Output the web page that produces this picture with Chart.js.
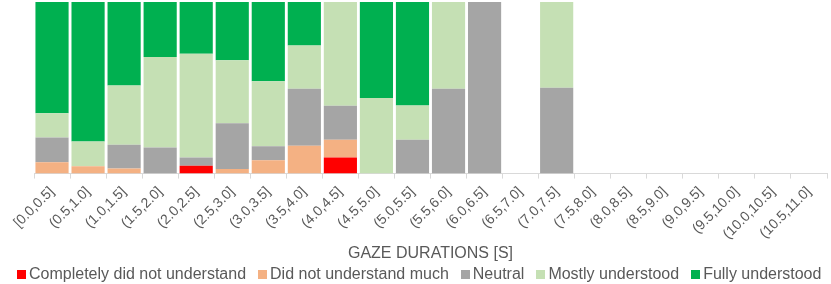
<!DOCTYPE html>
<html>
<head>
<meta charset="utf-8">
<script src="https://cdn.jsdelivr.net/npm/chart.js@4"></script>
<style>
html,body{margin:0;padding:0;background:#fff;}
#wrap{width:831px;height:284px;position:relative;overflow:hidden;}
#legend{position:absolute;left:17px;top:264px;height:20px;display:flex;align-items:center;
  font-family:'Liberation Sans',Arial,sans-serif;font-size:16px;color:#595959;white-space:nowrap;}
#legend .it{display:flex;align-items:center;margin-right:12px;}
#legend .bx{width:9px;height:9px;margin-right:3px;display:inline-block;}
</style>
</head>
<body>
<div id="wrap"><canvas id="c" width="831" height="284"></canvas><div id="legend"></div></div>
<script>
const categories = ["[0.0,0.5]","(0.5,1.0]","(1.0,1.5]","(1.5,2.0]","(2.0,2.5]","(2.5,3.0]","(3.0,3.5]","(3.5,4.0]","(4.0,4.5]","(4.5,5.0]","(5.0,5.5]","(5.5,6.0]","(6.0,6.5]","(6.5,7.0]","(7.0,7.5]","(7.5,8.0]","(8.0,8.5]","(8.5,9.0]","(9.0,9.5]","(9.5,10.0]","(10.0,10.5]","(10.5,11.0]"];
const completelyDidNot = [0,0,0,0,4.5,0,0,0,9.4,0,0,0,0,0,0,0,0,0,0,0,0,0];
const didNotMuch       = [6.6,4.3,2.9,0,0,2.7,7.8,16.2,10.3,0,0,0,0,0,0,0,0,0,0,0,0,0];
const neutral          = [14.4,0,13.9,15.2,4.9,26.7,8.2,33.3,19.9,0,19.7,49.5,100,0,50,0,0,0,0,0,0,0];
const mostly           = [14.2,14.4,34.5,52.8,60.4,36.7,37.8,25.2,60.4,44,20,50.5,0,0,50,0,0,0,0,0,0,0];
const fully            = [64.8,81.3,48.7,32.0,30.2,33.9,46.2,25.3,0,56,60.3,0,0,0,0,0,0,0,0,0,0,0];

const seriesNames  = ["Completely did not understand","Did not understand much","Neutral","Mostly understood","Fully understood"];
const seriesColors = ["#FF0000","#F4B183","#A5A5A5","#C5E0B4","#00B050"];
const seriesData   = [completelyDidNot, didNotMuch, neutral, mostly, fully];

const FONT = "'Liberation Sans', Arial, sans-serif";
const GREY = "#595959";

const chart = new Chart(document.getElementById('c'), {
  type: 'bar',
  data: {
    labels: categories,
    datasets: seriesNames.map((n,i)=>({label:n, data:seriesData[i], backgroundColor:seriesColors[i],
      borderWidth:0, barPercentage:0.92, categoryPercentage:1.0}))
  },
  options: {
    responsive: false,
    animation: false,
    layout: {padding: {left: 34, right: 4, top: 2, bottom: 21}},
    plugins: {tooltip: {enabled: false}, legend: {display: false}},
    scales: {
      x: {
        stacked: true,
        grid: {display: true, drawOnChartArea: false, drawTicks: true, tickLength: 5, color: "#D9D9D9", offset: true},
        border: {display: true, color: "#D9D9D9"},
        ticks: {color: GREY, font: {family: FONT, size: 14}, minRotation: 45, maxRotation: 45, autoSkip: false, padding: 5},
        title: {display: true, text: "GAZE DURATIONS [S]", color: GREY, font: {family: FONT, size: 16}, padding: {top: -4, bottom: 0}}
      },
      y: {stacked: true, display: false, min: 0, max: 100}
    }
  }
});

const lg = document.getElementById('legend');
chart.data.datasets.forEach(d=>{
  const it = document.createElement('span'); it.className='it';
  const bx = document.createElement('span'); bx.className='bx'; bx.style.background=d.backgroundColor;
  const tx = document.createElement('span'); tx.textContent=d.label;
  it.appendChild(bx); it.appendChild(tx); lg.appendChild(it);
});
</script>
</body>
</html>
